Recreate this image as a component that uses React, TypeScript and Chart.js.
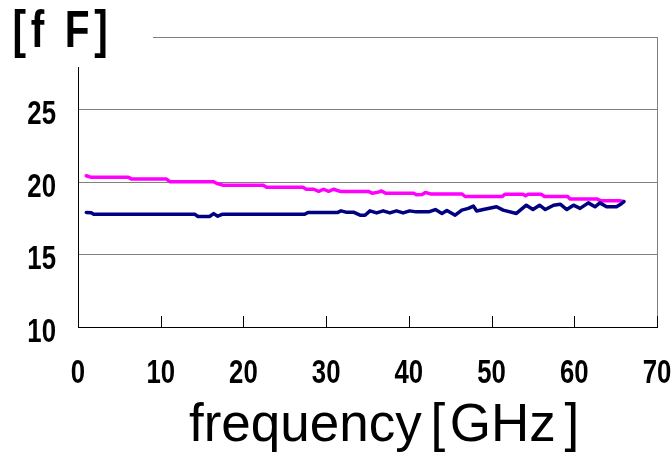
import React, { useEffect, useRef } from "react";
import { Chart, registerables } from "chart.js";

Chart.register(...registerables);

// Pink series (upper trace)
const freqPink = [1.0, 1.6, 6.1, 6.5, 10.7, 11.1, 16.4, 16.8, 17.6, 22.4, 22.8, 27.2, 27.6, 28.5, 29.1, 29.7, 30.3, 30.9, 31.7, 35.1, 35.6, 36.3, 36.7, 37.2, 40.6, 40.9, 41.6, 42.0, 42.6, 46.4, 46.8, 51.3, 51.6, 53.8, 54.1, 54.4, 56.0, 56.4, 59.2, 59.5, 62.8, 63.2, 65.6, 66.0];
const capPink = [20.43, 20.32, 20.32, 20.2, 20.2, 20.02, 20.02, 19.9, 19.77, 19.77, 19.64, 19.64, 19.5, 19.5, 19.36, 19.5, 19.36, 19.5, 19.35, 19.35, 19.22, 19.3, 19.38, 19.22, 19.22, 19.12, 19.14, 19.28, 19.18, 19.18, 19.0, 19.0, 19.16, 19.16, 19.05, 19.15, 19.15, 19.0, 19.0, 18.82, 18.82, 18.7, 18.7, 18.66];

// Navy series (lower trace)
const freqNavy = [1.0, 1.6, 1.9, 14.1, 14.5, 15.9, 16.4, 16.9, 17.5, 27.4, 27.8, 31.4, 31.8, 32.4, 33.3, 34.1, 34.7, 35.3, 36.1, 36.9, 37.7, 38.5, 39.3, 40.1, 40.9, 42.4, 43.2, 44.0, 44.6, 45.6, 46.4, 47.2, 47.8, 48.2, 49.0, 50.6, 51.4, 53.0, 54.2, 55.0, 55.8, 56.5, 57.5, 58.3, 59.1, 59.9, 60.7, 61.7, 62.5, 63.1, 63.9, 65.1, 65.7, 66.0];
const capNavy = [17.9, 17.88, 17.78, 17.78, 17.62, 17.62, 17.82, 17.64, 17.78, 17.78, 17.9, 17.9, 18.01, 17.92, 17.92, 17.71, 17.71, 18.01, 17.87, 18.01, 17.87, 18.01, 17.87, 18.01, 17.94, 17.94, 18.1, 17.83, 18.04, 17.71, 18.06, 18.18, 18.34, 18.0, 18.1, 18.29, 18.06, 17.83, 18.4, 18.1, 18.4, 18.1, 18.4, 18.47, 18.1, 18.4, 18.18, 18.56, 18.29, 18.56, 18.29, 18.29, 18.5, 18.64];

const xTicksMin = 0;
const xTicksMax = 70;
const xStep = 10;
const yMin = 10;
const yMax = 30;
const yStep = 5;

const yTitle = "[f F]";
const xTitle = "frequency\u2006[\u200aGHz\u2006]";

const BOLD_FONT = "bold 33px 'Liberation Sans', Arial, sans-serif";
const SQUEEZE = 0.78;

export default function App() {
  const ref = useRef<HTMLCanvasElement | null>(null);

  useEffect(() => {
    document.body.style.margin = "0";
    const canvas = ref.current;
    if (!canvas) return;

    const drawSqueezed = (ctx: any, text: string, x: number, y: number, align: "left" | "right" | "center") => {
      const w = ctx.measureText(text).width * SQUEEZE;
      let left = x;
      if (align === "right") left = x - w;
      else if (align === "center") left = x - w / 2;
      ctx.save();
      ctx.translate(left, y);
      ctx.scale(SQUEEZE, 1);
      ctx.textAlign = "left";
      ctx.fillText(text, 0, 0);
      ctx.restore();
    };

    const overlay = {
      id: "overlay",
      afterDraw(chart: any) {
        const ctx = chart.ctx;
        const xs = chart.scales.x;
        const ys = chart.scales.y;
        const area = chart.chartArea;
        ctx.save();
        // inward tick marks on x axis
        ctx.strokeStyle = "#000";
        ctx.lineWidth = 1;
        xs.ticks.forEach((t: any) => {
          const px = Math.round(xs.getPixelForValue(t.value)) + 0.5;
          ctx.beginPath();
          ctx.moveTo(px, area.bottom);
          ctx.lineTo(px, area.bottom - 11);
          ctx.stroke();
        });
        // tick labels (condensed bold)
        ctx.fillStyle = "#000";
        ctx.font = BOLD_FONT;
        ctx.textBaseline = "alphabetic";
        xs.ticks.forEach((t: any) => {
          const px = xs.getPixelForValue(t.value);
          drawSqueezed(ctx, String(t.label), px, 383, "center");
        });
        ys.ticks.forEach((t: any) => {
          const lbl = String(t.label);
          if (!lbl) return;
          const py = ys.getPixelForValue(t.value);
          drawSqueezed(ctx, lbl, 56, py + 14.5, "right");
        });
        // white box behind unit label
        ctx.fillStyle = "#fff";
        ctx.fillRect(0, 0, 153, 67);
        // unit label
        ctx.fillStyle = "#000";
        ctx.font = "bold 52px 'Liberation Sans', Arial, sans-serif";
        try { ctx.letterSpacing = "6px"; } catch (e) {}
        drawSqueezed(ctx, yTitle, 12.5, 47, "left");
        try { ctx.letterSpacing = "0px"; } catch (e) {}
        // x title
        ctx.font = "53px 'Liberation Sans', Arial, sans-serif";
        ctx.textAlign = "left";
        ctx.fillText(xTitle, 189, 441);
        ctx.restore();
      },
    };

    const chart = new Chart(canvas, {
      type: "line",
      data: {
        datasets: [
          {
            label: "navy",
            data: freqNavy.map((f, i) => ({ x: f, y: capNavy[i] })),
            borderColor: "#000080",
            backgroundColor: "#000080",
            borderWidth: 3.5,
            pointRadius: 0,
            tension: 0,
            borderCapStyle: "round",
            borderJoinStyle: "round",
          },
          {
            label: "pink",
            data: freqPink.map((f, i) => ({ x: f, y: capPink[i] })),
            borderColor: "#FF00FF",
            backgroundColor: "#FF00FF",
            borderWidth: 3.5,
            pointRadius: 0,
            tension: 0,
            borderCapStyle: "round",
            borderJoinStyle: "round",
          },
        ],
      },
      options: {
        responsive: false,
        animation: false,
        devicePixelRatio: 1,
        layout: { padding: { top: 37, right: 15, left: 0, bottom: 0 } },
        plugins: {
          legend: { display: false },
          tooltip: { enabled: false },
          title: { display: false },
        },
        scales: {
          x: {
            type: "linear",
            min: xTicksMin,
            max: xTicksMax,
            ticks: {
              stepSize: xStep,
              color: "rgba(0,0,0,0)",
              font: { size: 12 },
              padding: 0,
              maxRotation: 0,
              autoSkip: false,
            },
            grid: {
              drawTicks: false,
              color: (c: any) => (c.tick && c.tick.value === xTicksMax ? "#808080" : "rgba(0,0,0,0)"),
              lineWidth: 1,
            },
            border: { display: true, color: "#000", width: 1 },
            afterFit: (s: any) => {
              s.height = 125;
            },
          },
          y: {
            type: "linear",
            min: yMin,
            max: yMax,
            ticks: {
              stepSize: yStep,
              color: "rgba(0,0,0,0)",
              font: { size: 12 },
              padding: 0,
              callback: (v: any) => (v === yMax ? "" : String(v)),
            },
            grid: {
              drawTicks: false,
              color: (c: any) => (c.tick && c.tick.value === yMin ? "rgba(0,0,0,0)" : "#808080"),
              lineWidth: 1,
            },
            border: { display: true, color: "#000", width: 1 },
            afterFit: (s: any) => {
              s.width = 78;
            },
          },
        },
      },
      plugins: [overlay],
    });

    return () => chart.destroy();
  }, []);

  return (
    <div style={{ width: 672, height: 452 }}>
      <canvas ref={ref} width={672} height={452} />
    </div>
  );
}
